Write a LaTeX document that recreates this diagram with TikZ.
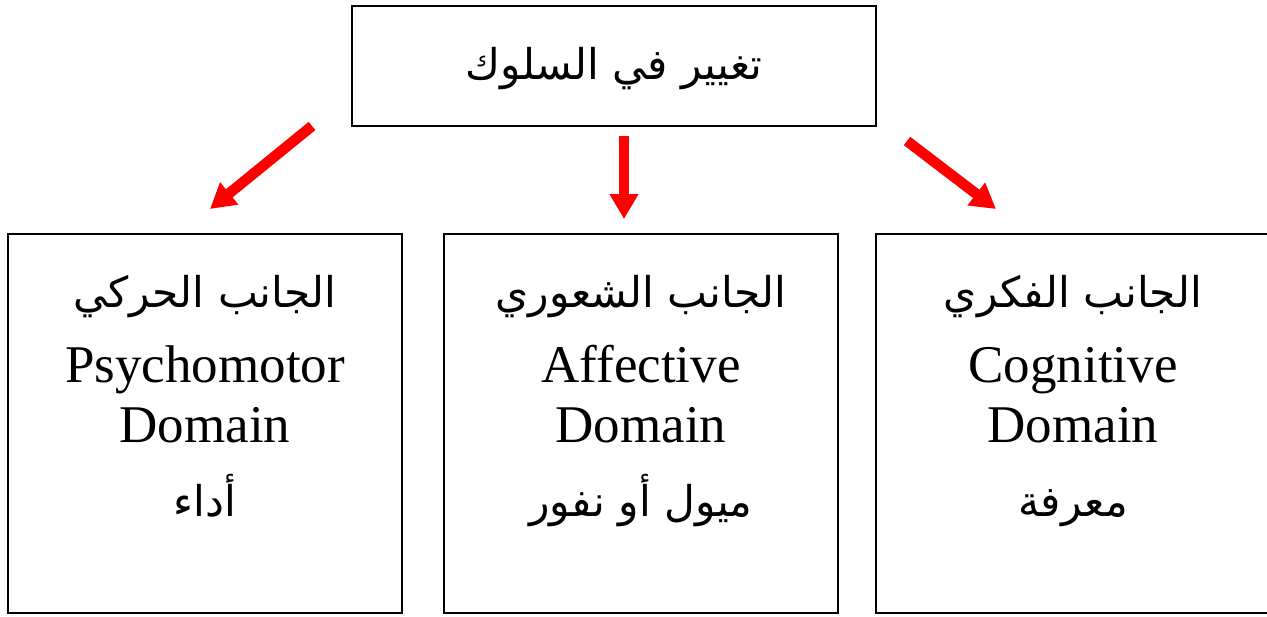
\documentclass[tikz,border=0pt]{standalone}
\usepackage{fontspec}
\setmainfont{Liberation Serif}
\newfontfamily\arabicfont[Script=Arabic,Scale=0.8]{DejaVu Sans}
\TeXXeTstate=1
\usetikzlibrary{positioning,arrows.meta}
\newcommand{\arab}[1]{{\arabicfont\beginR #1\endR}}
\tikzset{
  % frames of the boxes
  topbox/.style={draw, line width=1.4pt, minimum width=13.1cm, minimum height=3cm, inner sep=0pt},
  domainbox/.style={draw, line width=1.4pt, minimum width=9.85cm, minimum height=9.475cm, inner sep=0pt},
  % texts inside the boxes
  domaintext/.style={align=center, inner sep=0pt, font=\fontsize{37.7}{42.7}\selectfont},
  % thick red arrows
  redarrow/.style={draw=red, line width=7.5pt, -{Triangle[width=0.68cm,length=0.62cm,fill=red]}},
}
\begin{document}
\begin{tikzpicture}[x=0.025cm,y=-0.025cm]
\useasboundingbox (0,0) rectangle (1267,617);
% boxes
\node[topbox] (behaviour) at (614,66) {};
\node[domaintext] (behaviourtxt) at ([yshift=-0.06cm]behaviour.center) {\arab{تغيير في السلوك}};
\node[domainbox] (psycho) at (205,423.5) {};
\node[domainbox] (affect) at (641,423.5) {};
\node[domainbox] (cogn) at (1073,423.5) {};
\node[domaintext, below=1.05cm of psycho.north] (psychotxt)
  {\arab{الجانب الحركي}\\[0.375cm] Psychomotor\\ Domain\\[0.35cm] \arab{أداء}};
\node[domaintext, below=1.05cm of affect.north] (affecttxt)
  {\arab{الجانب الشعوري}\\[0.375cm] Affective\\ Domain\\[0.35cm] \arab{ميول أو نفور}};
\node[domaintext, below=1.05cm of cogn.north] (cogntxt)
  {\arab{الجانب الفكري}\\[0.375cm] Cognitive\\ Domain\\[0.35cm] \arab{معرفة}};
% arrow ends
\coordinate (l1) at (312,126);
\coordinate (l2) at (210,209);
\coordinate (m1) at (624,136);
\coordinate (m2) at (624,219);
\coordinate (r1) at (907,141);
\coordinate (r2) at (996,209);
\draw[redarrow] (l1) -- (l2);
\draw[redarrow] (m1) -- (m2);
\draw[redarrow] (r1) -- (r2);
\end{tikzpicture}
\end{document}
